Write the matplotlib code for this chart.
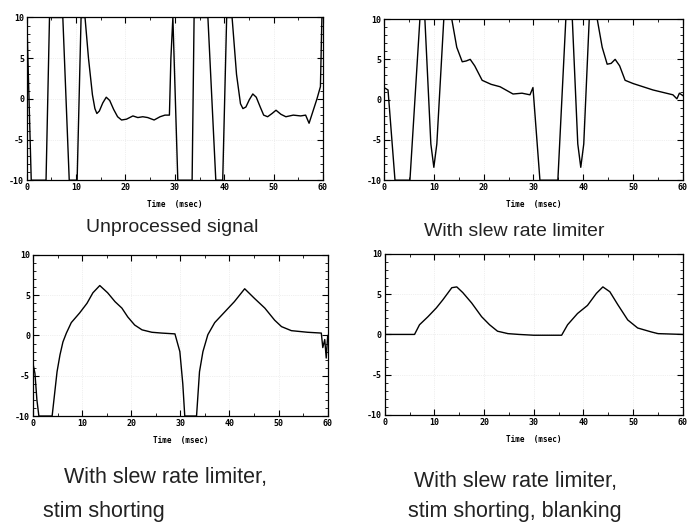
import matplotlib
matplotlib.use("Agg")
import matplotlib.pyplot as plt
from matplotlib.ticker import MultipleLocator

plt.rcParams['axes.unicode_minus'] = False

# panel 1: unprocessed signal (clipped at +/-10)
t_raw = [0, 0.9, 3.9, 4.6, 7.3, 8.6, 10.2, 11.0, 11.8, 12.5, 13.3, 13.8, 14.2, 14.7,
         15.4, 16.1, 16.8, 17.6, 18.4, 19.2, 20.2, 21.5, 22.5, 23.5, 24.5, 25.8, 27.0,
         28.0, 28.9, 29.2, 29.6, 30.6, 33.5, 33.9, 36.7, 38.3, 39.7, 40.5, 41.6, 42.5,
         43.3, 43.8, 44.4, 45.1, 45.8, 46.5, 47.3, 48.0, 48.8, 49.7, 50.5, 51.5, 52.5,
         54.0, 55.5, 56.5, 57.2, 58.0, 58.8, 59.5, 59.8, 60]
v_raw = [10, -10, -10, 10, 10, -10, -10, 10, 10, 5, 0.5, -1.2, -1.8, -1.5,
         -0.5, 0.2, -0.2, -1.3, -2.2, -2.6, -2.5, -2.1, -2.3, -2.2, -2.3, -2.6, -2.2,
         -2.0, -2.0, 5, 10, -10, -10, 10, 10, -10, -10, 10, 10, 3,
         -0.6, -1.2, -1.0, -0.1, 0.6, 0.2, -1.0, -2.0, -2.2, -1.8, -1.4, -1.9, -2.2,
         -2.0, -2.1, -2.0, -3.0, -1.5, 0, 1.5, 10, 10]

# panel 2: slew rate limiter
t_slew = [0, 0.8, 2.2, 5.2, 7.2, 8.2, 9.4, 10.0, 10.6, 12.0, 13.6, 14.6, 15.7, 16.5,
          17.3, 18.2, 19.7, 21.5, 23.3, 25.9, 27.7, 29.3, 29.9, 31.3, 34.9, 36.5, 37.8,
          38.9, 39.5, 40.1, 41.2, 42.8, 43.8, 44.8, 45.6, 46.4, 47.3, 48.4, 50.0, 52.0,
          54.0, 56.0, 58.0, 58.8, 59.3, 60]
v_slew = [1.5, 1.2, -10, -10, 10, 10, -5.5, -8.4, -5.5, 10, 10, 6.5, 4.7, 4.8,
          5.0, 4.2, 2.4, 1.9, 1.6, 0.7, 0.8, 0.6, 1.5, -10, -10, 10, 10,
          -5.5, -8.4, -5.5, 10, 10, 6.5, 4.4, 4.5, 5.0, 4.2, 2.4, 2.0, 1.6,
          1.2, 0.9, 0.6, 0.1, 0.8, 0.5]

# panel 3: slew rate limiter + stim shorting
t_short = [0, 0.4, 0.8, 1.2, 3.9, 4.9, 5.5, 6.1, 6.8, 7.8, 9.5, 11.0, 12.2, 13.6,
           15.2, 16.7, 18.1, 19.3, 20.7, 22.2, 24.2, 26.2, 28.9, 29.9, 30.5, 30.9,
           33.3, 33.9, 34.6, 35.6, 37.0, 39.0, 41.0, 43.1, 45.1, 47.2, 49.2, 50.6,
           52.6, 55.9, 58.7, 59.0, 59.4, 59.7, 60]
v_short = [-3.5, -4.7, -8, -10, -10, -4.5, -2.4, -0.8, 0.3, 1.6, 2.8, 4.0, 5.3, 6.2,
           5.3, 4.2, 3.4, 2.3, 1.3, 0.7, 0.4, 0.3, 0.2, -2, -6, -10,
           -10, -4.5, -2.0, 0.1, 1.6, 2.9, 4.2, 5.8, 4.6, 3.4, 1.9, 1.1,
           0.6, 0.4, 0.3, -1.5, -0.5, -2.8, 0]

# panel 4: slew rate limiter + stim shorting + blanking
t_blank = [0, 6.0, 7.0, 8.7, 10.4, 11.7, 13.5, 14.5, 15.7, 17.5, 19.5, 21.1, 22.7,
           24.8, 27, 30, 33, 35.6, 36.8, 38.8, 40.8, 42.6, 43.9, 45.3, 46.9, 48.9,
           50.9, 53.7, 55, 60]
v_blank = [0, 0, 1.2, 2.2, 3.3, 4.3, 5.8, 5.9, 5.2, 3.9, 2.2, 1.2, 0.4,
           0.1, 0, -0.1, -0.1, -0.1, 1.2, 2.6, 3.6, 5.1, 5.9, 5.3, 3.7, 1.8,
           0.8, 0.3, 0.1, 0]

x_ticks = [0, 10, 20, 30, 40, 50, 60]
y_ticks = [-10, -5, 0, 5, 10]

panels = [
    ([0.039, 0.660, 0.431, 0.307], t_raw, v_raw),
    ([0.559, 0.660, 0.435, 0.304], t_slew, v_slew),
    ([0.048, 0.215, 0.429, 0.304], t_short, v_short),
    ([0.560, 0.217, 0.434, 0.304], t_blank, v_blank),
]

captions = [
    (172, 228, "Unprocessed signal", 14),
    (514, 232, "With slew rate limiter", 14),
    (165, 477, "With slew rate limiter,", 15.5),
    (104, 511, "stim shorting", 15.5),
    (515, 482, "With slew rate limiter,", 15.5),
    (515, 512, "stim shorting, blanking", 15.5),
]

fig = plt.figure(figsize=(6.87, 5.30), dpi=100)
W, H = 687.0, 530.0

for rect, t, v in panels:
    ax = fig.add_axes(rect)
    ax.plot(t, v, color="black", lw=1.0)
    ax.set_xlim(0, 60)
    ax.set_ylim(-10, 10)
    ax.set_xticks(x_ticks)
    ax.set_yticks(y_ticks)
    ax.yaxis.set_minor_locator(MultipleLocator(1))
    ax.xaxis.set_minor_locator(MultipleLocator(5))
    ax.tick_params(which="both", direction="in", top=True, right=True,
                   labelsize=6, pad=2)
    ax.tick_params(which="major", length=4, width=0.8)
    ax.tick_params(which="minor", length=2, width=0.6)
    for lab in ax.get_xticklabels() + ax.get_yticklabels():
        lab.set_fontfamily("DejaVu Sans Mono")
        lab.set_fontweight("bold")
    ax.grid(True, which="major", ls=":", lw=0.5, color="0.7", alpha=0.4)
    for s in ax.spines.values():
        s.set_linewidth(0.9)
    ax.set_xlabel("Time  (msec)", fontsize=5.5, fontweight="bold",
                  family="DejaVu Sans Mono", labelpad=6)

for x, y, s, fs in captions:
    fig.text(x / W, 1 - y / H, s, ha="center", va="center", fontsize=fs,
             family="Liberation Sans", color="#222222")

fig.savefig("out.png", dpi=100)
